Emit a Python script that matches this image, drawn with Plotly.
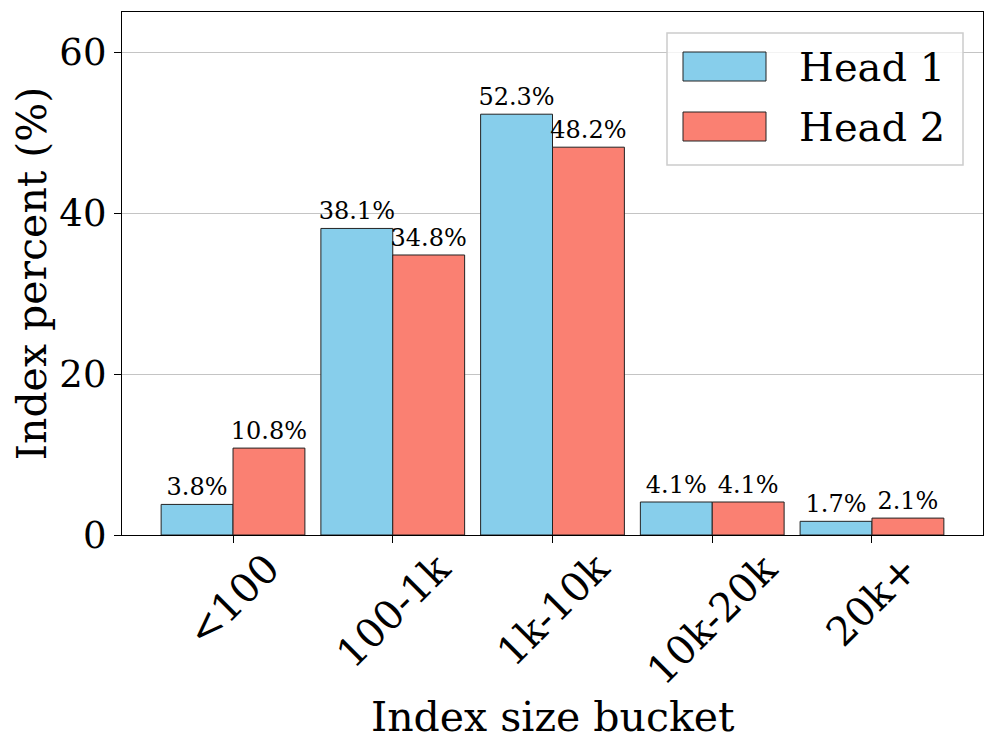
import plotly.graph_objects as go

categories = ["<100", "100-1k", "1k-10k", "10k-20k", "20k+"]
head1 = [3.8, 38.1, 52.3, 4.1, 1.7]
head2 = [10.8, 34.8, 48.2, 4.1, 2.1]
series_names = ["Head 1", "Head 2"]
colors = ["#87CEEB", "#FA8072"]
yticks = [0, 20, 40, 60]

FONT = "DejaVu Serif"
OFF = 8  # page body margin
W, H = 997 - OFF, 752 - OFF
# plot area in page pixels
L, R, T, B = 122, 983, 12, 535

fig = go.Figure()
for name, vals, col in zip(series_names, [head1, head2], colors):
    fig.add_trace(go.Bar(
        x=categories, y=vals, name=name,
        marker=dict(color=col, line=dict(color="#222222", width=1)),
        text=[f"{v:.1f}%" for v in vals],
        textposition="outside",
        textfont=dict(family=FONT, size=24, color="black"),
        constraintext="none",
        cliponaxis=False,
        showlegend=False,
    ))

def px_x(px):
    return (px - L) / (R - L)

def px_y(py):
    return (B - py) / (B - T)

shapes = []
annotations = []
# legend frame
shapes.append(dict(type="rect", xref="paper", yref="paper",
                   x0=px_x(667), x1=px_x(963), y0=px_y(165), y1=px_y(33),
                   line=dict(color="#cccccc", width=1.5), fillcolor="rgba(255,255,255,0.8)", layer="above"))
for i, (name, col) in enumerate(zip(series_names, colors)):
    y0 = 52 + i * 60
    shapes.append(dict(type="rect", xref="paper", yref="paper",
                       x0=px_x(683), x1=px_x(766), y0=px_y(y0 + 29), y1=px_y(y0),
                       line=dict(color="#222222", width=1), fillcolor=col, layer="above"))
    annotations.append(dict(xref="paper", yref="paper", x=px_x(797), y=px_y(y0 + 15),
                            text=name, showarrow=False, xanchor="left", yanchor="middle",
                            font=dict(family=FONT, size=40, color="black")))

# rotated category labels, centred on ticks (matplotlib rotation=45, ha='center')
for c in categories:
    annotations.append(dict(xref="x", yref="paper", x=c, y=px_y(542),
                            text=c, showarrow=False, textangle=-45,
                            xanchor="center", yanchor="top",
                            font=dict(family=FONT, size=40, color="black")))
# x axis title
annotations.append(dict(xref="paper", yref="paper", x=0.5, y=px_y(717),
                        text="Index size bucket", showarrow=False,
                        xanchor="center", yanchor="middle",
                        font=dict(family=FONT, size=41, color="black")))

fig.update_layout(
    width=W, height=H,
    margin=dict(l=L - OFF, r=W + OFF - R, t=T - OFF, b=H + OFF - B),
    paper_bgcolor="white", plot_bgcolor="white",
    barmode="group", bargap=0.1, bargroupgap=0,
    font=dict(family=FONT, color="black"),
    shapes=shapes, annotations=annotations,
    xaxis=dict(
        type="category", range=[-0.695, 4.695],
        showline=True, linecolor="black", linewidth=1.3, mirror=True,
        ticks="outside", ticklen=7, tickwidth=1.3, tickcolor="black",
        showticklabels=False,
        showgrid=False,
    ),
    yaxis=dict(
        range=[0, 65], tickvals=yticks,
        showline=True, linecolor="black", linewidth=1.3, mirror=True,
        ticks="outside", ticklen=7, tickwidth=1.3, tickcolor="black",
        tickfont=dict(family=FONT, size=37),
        title=dict(text="Index percent (%)", font=dict(family=FONT, size=41), standoff=12),
        showgrid=True, gridcolor="#c4c4c4", gridwidth=1, zeroline=False,
    ),
)

fig.write_html("out.html")
